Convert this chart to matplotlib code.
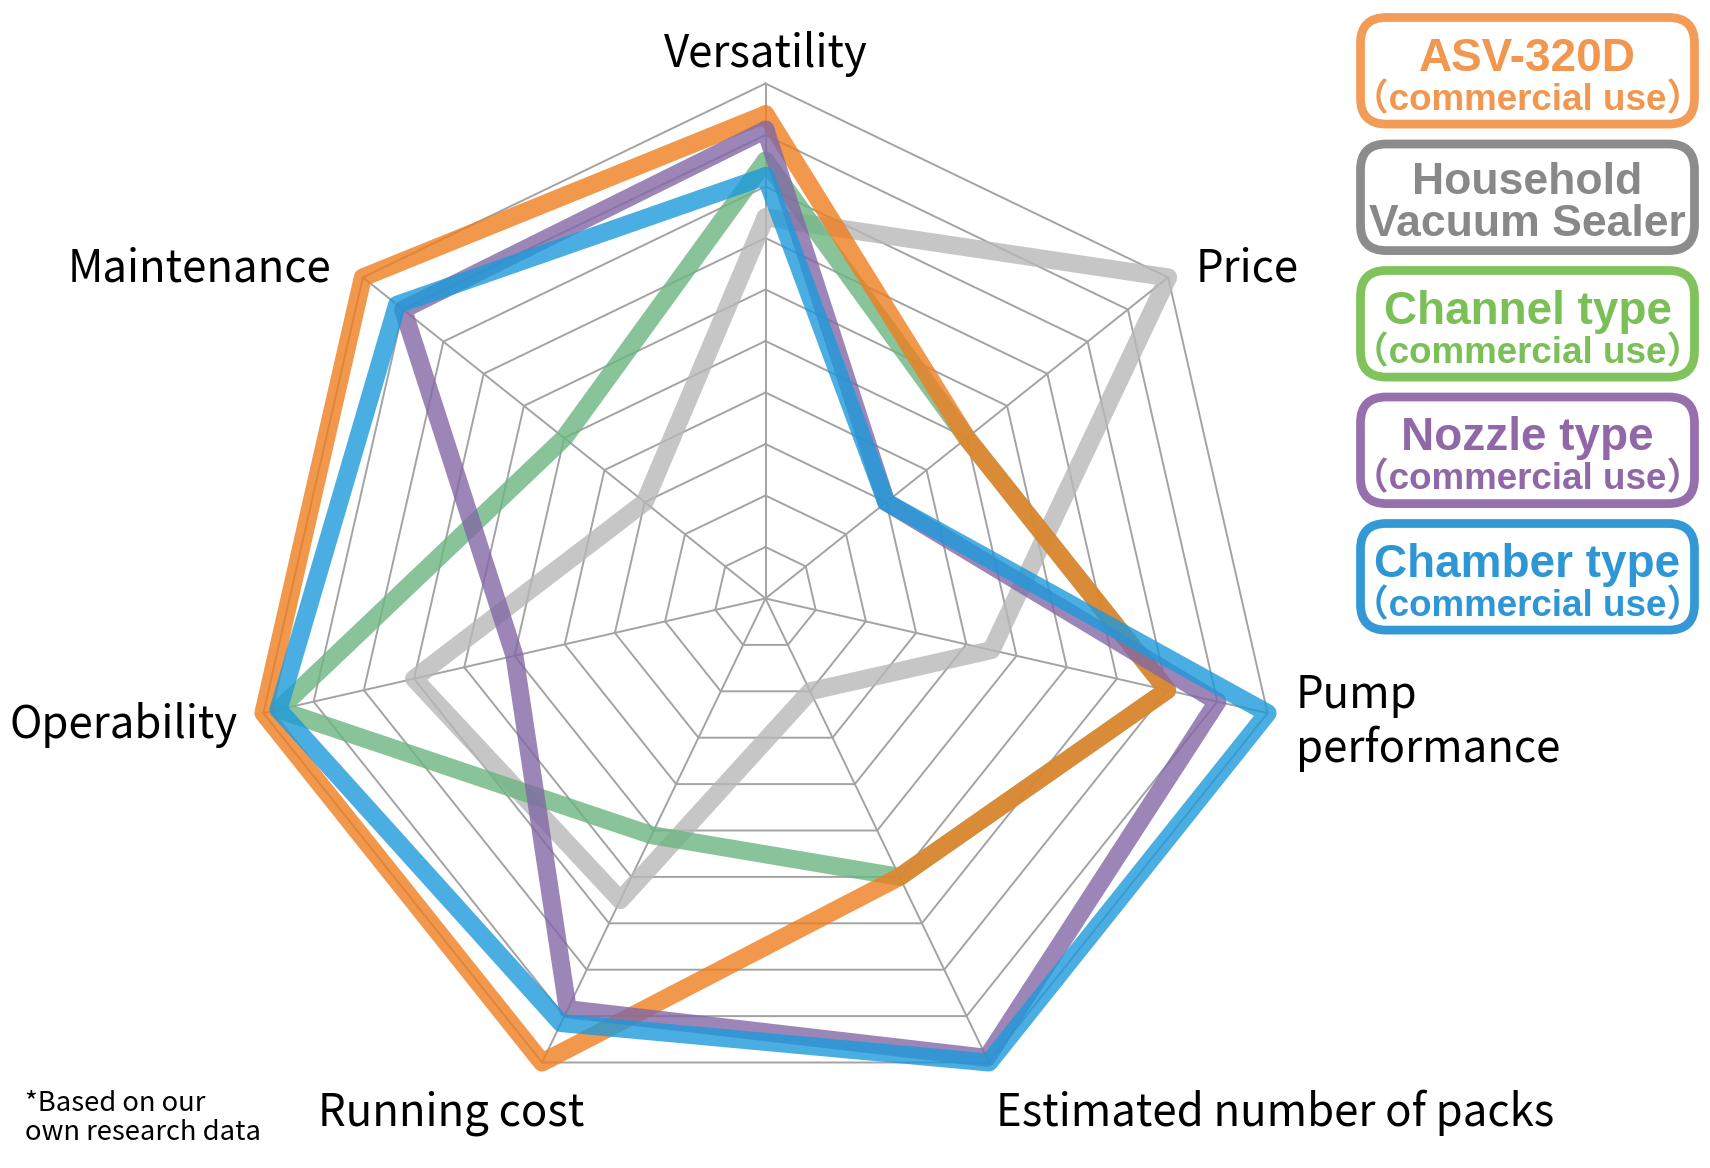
import numpy as np
import matplotlib
matplotlib.use('Agg')
import matplotlib.pyplot as plt
from matplotlib.patches import FancyBboxPatch

# axes, clockwise from the top
categories = ["Versatility", "Price", "Pump\nperformance", "Estimated number of packs",
              "Running cost", "Operability", "Maintenance"]

asv_320d = [9.4, 5.0, 8.0, 6.0, 10.0, 10.0, 10.0]
household = [7.4, 10.0, 4.5, 2.0, 6.5, 7.0, 3.0]
channel = [8.5, 5.0, 8.0, 6.0, 5.1, 9.7, 5.0]
nozzle = [9.1, 3.0, 9.0, 9.9, 8.85, 5.0, 9.0]
chamber = [8.2, 3.0, 10.0, 10.0, 9.15, 9.7, 9.15]

legend_main = ["ASV-320D", "Household", "Channel type", "Nozzle type", "Chamber type"]
legend_sub = ["（commercial use）", "Vacuum Sealer", "（commercial use）", "（commercial use）", "（commercial use）"]
footnote = "*Based on our\nown research data"

ring_max = 10

# drawing order: bottom to top
series = [household, channel, asv_320d, nozzle, chamber]
line_colors = ['#B8B8B8', '#6BB581', '#EF7E1F', '#8268A5', '#1D9ADB']

# legend order (top to bottom) matches legend_main
legend_colors = ['#F2974F', '#888888', '#7BBF57', '#9068A8', '#2E96D5']
legend_edges = ['#F39C58', '#8C8C8C', '#80C35C', '#9570AC', '#3399D6']

W, H = 1710, 1168
CX, CY, UNIT = 765.5, 598.5, 51.5

fig = plt.figure(figsize=(W / 100, H / 100), dpi=100)
ax = fig.add_axes([0, 0, 1, 1])
ax.set_xlim(-CX / UNIT, (W - CX) / UNIT)
ax.set_ylim((CY - H) / UNIT, CY / UNIT)
ax.set_aspect('equal')
ax.axis('off')


def px(x, y):
    # pixel position (top-left origin) -> data coordinates
    return (x - CX) / UNIT, (CY - y) / UNIT


n = len(categories)
ang = np.pi / 2 - 2 * np.pi * np.arange(n) / n
ang_c = np.append(ang, ang[0])

# grid
for k in range(1, ring_max + 1):
    ax.plot(k * np.cos(ang_c), k * np.sin(ang_c), color='#A3A3A3', lw=1.4, zorder=1)
for a in ang:
    ax.plot([0, ring_max * np.cos(a)], [0, ring_max * np.sin(a)], color='#A3A3A3', lw=1.4, zorder=1)

# series
for vals, c in zip(series, line_colors):
    v = np.append(vals, vals[0])
    ax.plot(v * np.cos(ang_c), v * np.sin(ang_c), color=c, lw=13, alpha=0.8,
            solid_joinstyle='round', solid_capstyle='round', zorder=2)

# axis labels
lab_font = ['Noto Sans CJK JP', 'DejaVu Sans']
lab_pos = [(765.5, 67, 'center'), (1196, 281, 'left'), (1296, 708, 'left'),
           (996, 1126, 'left'), (451, 1126, 'center'), (238, 738, 'right'), (331, 281, 'right')]
for lab, (x, y, ha) in zip(categories, lab_pos):
    for j, line in enumerate(lab.split('\n')):
        tx, ty = px(x, y + j * 54)
        ax.text(tx, ty, line, ha=ha, va='baseline', fontsize=31.5, family=lab_font, color='black')

foot_lines = footnote.split('\n')
for j, line in enumerate(foot_lines):
    fx, fy = px(25, 1111 + j * 29)
    ax.text(fx, fy, line, ha='left', va='baseline', fontsize=19.7, family=lab_font)

# legend boxes
leg_font = ['Liberation Sans', 'Noto Sans CJK JP']
for i, (m, s) in enumerate(zip(legend_main, legend_sub)):
    top = 13 + 126.5 * i
    bw = 4.5
    x0, y0 = px(1356 + bw, top + 115.6 - bw)
    x1, y1 = px(1699 - bw, top + bw)
    box = FancyBboxPatch((x0, y0), x1 - x0, y1 - y0,
                         boxstyle='round,pad=0,rounding_size=0.5',
                         fc='white', ec=legend_edges[i], lw=6.3, zorder=3)
    ax.add_patch(box)
    if s.startswith('（'):
        tx, ty = px(1527.5, top + 58)
        ax.text(tx, ty, m, ha='center', va='baseline', fontsize=33, fontweight='bold',
                family=leg_font, color=legend_colors[i], zorder=4)
        tx, ty = px(1527.5, top + 97)
        ax.text(tx, ty, s, ha='center', va='baseline', fontsize=26.5, fontweight='bold',
                family=leg_font, color=legend_colors[i], zorder=4)
    else:
        # two-line name as one text block (baseline = last line)
        tx, ty = px(1527.5, top + 97)
        ax.text(tx, ty, m + '\n' + s, ha='center', va='baseline', multialignment='center',
                fontsize=32, fontweight='bold', linespacing=1.05,
                family=leg_font, color=legend_colors[i], zorder=4)

fig.savefig('out.png', dpi=100)
